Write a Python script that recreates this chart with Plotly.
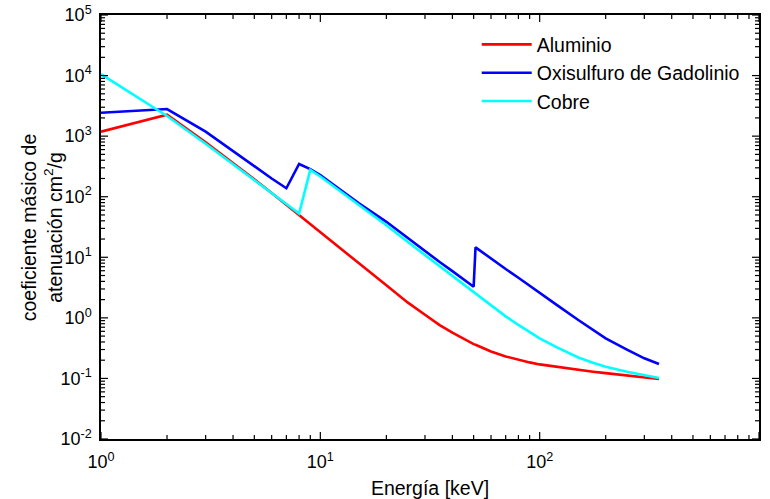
import math
import plotly.graph_objects as go

# Energy [keV]
energia = [1, 2, 3, 4, 5, 6, 7, 8, 9, 10, 12, 15, 20, 25, 30, 35, 40, 45, 50, 51,
           60, 70, 80, 90, 100, 120, 150, 175, 200, 250, 300, 350]

# Mass attenuation coefficients [cm^2/g]
aluminio = [1185, 2263, 788.0, 360.5, 193.4, 115.3, 73.9, 50.33, 35.7, 26.23, 15.3, 7.955,
            3.441, 1.80, 1.128, 0.76, 0.5685, 0.445, 0.3681, 0.360, 0.2778, 0.231, 0.2018,
            0.184, 0.1704, 0.1549, 0.1378, 0.1293, 0.1223, 0.112, 0.1042, 0.0979]
gadolinio = [2440, 2800, 1190, 560, 320, 200, 138, 347, 285, 228, 140, 78, 38.5, 20.7,
             12.7, 8.35, 5.9, 4.3, 3.27, 14.6, 9.5, 6.4, 4.6, 3.42, 2.65, 1.62, 0.92, 0.63,
             0.46, 0.30, 0.215, 0.173]
cobre = [10570, 2154, 748.8, 347.3, 189.9, 115.6, 75.7, 52.55, 277.0, 215.9, 133.4, 74.05,
         33.79, 18.0, 10.92, 7.0, 4.862, 3.48, 2.613, 2.48, 1.593, 1.06, 0.763, 0.578,
         0.4584, 0.325, 0.2217, 0.182, 0.1559, 0.129, 0.1119, 0.102]

series_names = ["Aluminio", "Oxisulfuro de Gadolinio", "Cobre"]
series_colors = ["#FF0000", "#0000FF", "#00FFFF"]

x_range_exp = [0, 3]
y_range_exp = [-2, 5]
x_tickvals = [1, 10, 100, 1000]
x_ticktext = ["10<sup>0</sup>", "10<sup>1</sup>", "10<sup>2</sup>", "10<sup>3</sup>"]
y_exps = [-2, -1, 0, 1, 2, 3, 4, 5]
y_tickvals = [10.0 ** e for e in y_exps]
y_ticktext = ["10<sup>%d</sup>" % e for e in y_exps]
x_minor = [m * 10 ** d for d in range(0, 3) for m in range(2, 10)]
y_minor = [m * 10.0 ** d for d in range(-2, 5) for m in range(2, 10)]

FONT = "Liberation Sans, Arial, sans-serif"
MAJOR_LEN, MINOR_LEN = 7, 4

fig = go.Figure()
for name, vals, col in zip(series_names, [aluminio, gadolinio, cobre], series_colors):
    fig.add_trace(go.Scatter(x=energia, y=vals, mode="lines", name=name,
                             line=dict(color=col, width=2.6)))

axis_common = dict(
    type="log", showgrid=False, zeroline=False, automargin=False,
    showline=True, linecolor="black", linewidth=1.5, mirror=True,
    ticks="", tickfont=dict(family=FONT, size=18, color="black"),
)

fig.update_layout(
    xaxis=dict(range=x_range_exp, tickmode="array", tickvals=x_tickvals, ticktext=x_ticktext,
               ticklabelstandoff=6,
               title=dict(text="Energía [keV]",
                          font=dict(family=FONT, size=19.5, color="black"), standoff=16),
               **axis_common),
    yaxis=dict(range=y_range_exp, tickmode="array", tickvals=y_tickvals, ticktext=y_ticktext,
               ticklabelstandoff=4, **axis_common),
)

# inside tick marks on all four sides (box style), as line shapes in axis-domain coordinates
tick_line = dict(color="black", width=1.2)
def xfrac(v):
    return (math.log10(v) - x_range_exp[0]) / (x_range_exp[1] - x_range_exp[0])
def yfrac(v):
    return (math.log10(v) - y_range_exp[0]) / (y_range_exp[1] - y_range_exp[0])

plot_h = 499 - 15 - 60
plot_w = 770 - 101 - 11
for vals, ln in ((x_tickvals, MAJOR_LEN), (x_minor, MINOR_LEN)):
    for v in vals:
        f = xfrac(v)
        d = ln / plot_h
        fig.add_shape(type="line", xref="x domain", yref="y domain",
                      x0=f, x1=f, y0=0, y1=d, line=tick_line)
        fig.add_shape(type="line", xref="x domain", yref="y domain",
                      x0=f, x1=f, y0=1, y1=1 - d, line=tick_line)
for vals, ln in ((y_tickvals, MAJOR_LEN), (y_minor, MINOR_LEN)):
    for v in vals:
        f = yfrac(v)
        d = ln / plot_w
        fig.add_shape(type="line", xref="x domain", yref="y domain",
                      y0=f, y1=f, x0=0, x1=d, line=tick_line)
        fig.add_shape(type="line", xref="x domain", yref="y domain",
                      y0=f, y1=f, x0=1, x1=1 - d, line=tick_line)

fig.add_annotation(text="coeficiente másico de<br>atenuación cm<sup>2</sup>/g",
                   xref="paper", yref="paper", x=-0.052, y=0.5, xanchor="right", yanchor="middle",
                   textangle=-90, showarrow=False,
                   font=dict(family=FONT, size=19.5, color="black"))

fig.update_layout(
    width=770, height=499,
    margin=dict(l=101, r=11, t=15, b=60),
    paper_bgcolor="white", plot_bgcolor="white",
    legend=dict(x=0.571, y=0.976, xanchor="left", yanchor="top", itemwidth=50,
                bgcolor="rgba(255,255,255,0)", borderwidth=0,
                font=dict(family=FONT, size=19.5, color="black")),
)

fig.write_html("out.html")
